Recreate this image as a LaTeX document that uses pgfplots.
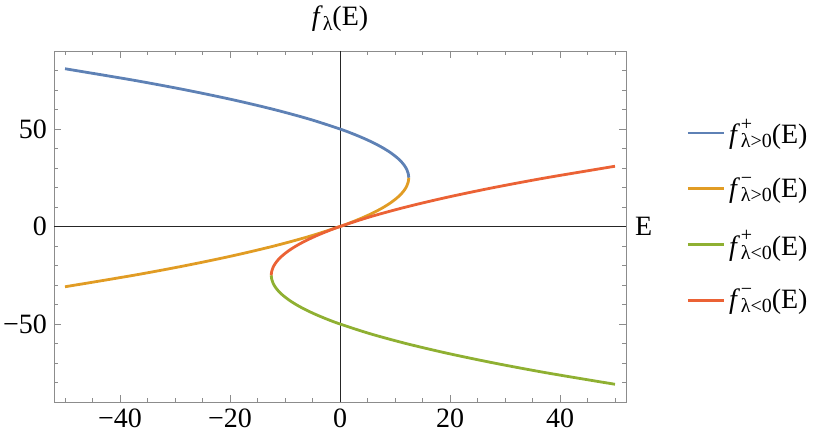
\documentclass[border=0pt]{standalone}
\usepackage{fontspec}
\setmainfont{Liberation Serif}
\usepackage{pgfplots}
\pgfplotsset{compat=1.18}

\definecolor{mblue}{RGB}{94,129,181}
\definecolor{morange}{RGB}{225,156,36}
\definecolor{mgreen}{RGB}{143,176,50}
\definecolor{mred}{RGB}{235,98,53}

% f^{sign}_{lambda cond}(E)
\newcommand{\sml}{\fontsize{10}{11}\selectfont}
\newcommand{\fl}[2]{\textit{f}\kern0.3pt\rlap{\raisebox{1.05ex}{\sml #1}}\raisebox{-0.3ex}{\sml λ#2}(E)}

\begin{document}
\begin{tikzpicture}
\begin{axis}[
    name=ax,
    scale only axis,
    width=286pt, height=175.5pt,
    xmin=-52, xmax=52,
    ymin=-90, ymax=90,
    xtick={-40,-20,0,20,40},
    xticklabels={−40,−20,0,20,40},
    ytick={-50,0,50},
    yticklabels={−50,0,50},
    minor xtick={-50,-45,...,50},
    minor ytick={-90,-80,...,90},
    tick align=inside,
    major tick length=3.5pt,
    minor tick length=2pt,
    axis line style={black!45},
    every tick/.style={black!45, line width=0.4pt},
    tick label style={font=\fontsize{14}{16}\selectfont},
    title={\textit{f}\raisebox{-0.35ex}{\sml λ}(E)},
    title style={font=\fontsize{14}{16}\selectfont, at={(0.5,1)}, anchor=south, yshift=0pt},
    xlabel={E},
    xlabel style={font=\fontsize{14}{16}\selectfont, at={(axis description cs:1,0.5)}, anchor=west, xshift=1pt},
    legend style={at={(1,0.5)}, anchor=west, xshift=27pt, yshift=5.5pt, draw=none, fill=none,
        font=\fontsize{14}{16}\selectfont, row sep=11pt},
    legend cell align=left,
    legend image code/.code={\draw[#1] (0pt,0pt) -- (18pt,0pt);},
    every axis plot/.append style={line width=1.4pt, smooth},
]

% axes through the origin
\draw[black!85, line width=0.5pt] (axis cs:0,-90) -- (axis cs:0,90);
\draw[black!85, line width=0.5pt] (axis cs:-52,0) -- (axis cs:52,0);

% f+ lambda>0
\addplot[mblue] coordinates {
    (12.5,25) (12.42,27) (12.18,29) (11.78,31) (11.22,33) (10.5,35)
    (9.375,37.5) (8,40) (6.375,42.5) (4.5,45) (2.375,47.5) (0,50)
    (-5.5,55) (-12,60) (-19.5,65) (-28,70) (-37.5,75) (-50,80.90)
};
\addlegendentry{\fl{+}{>0}}

% f- lambda>0
\addplot[morange] coordinates {
    (12.5,25) (12.42,23) (12.18,21) (11.78,19) (11.22,17) (10.5,15)
    (9.375,12.5) (8,10) (6.375,7.5) (4.5,5) (2.375,2.5) (0,0)
    (-5.5,-5) (-12,-10) (-19.5,-15) (-28,-20) (-37.5,-25) (-50,-30.90)
};
\addlegendentry{\fl{−}{>0}}

% f+ lambda<0
\addplot[mgreen] coordinates {
    (-12.5,-25) (-12.42,-27) (-12.18,-29) (-11.78,-31) (-11.22,-33) (-10.5,-35)
    (-9.375,-37.5) (-8,-40) (-6.375,-42.5) (-4.5,-45) (-2.375,-47.5) (0,-50)
    (5.5,-55) (12,-60) (19.5,-65) (28,-70) (37.5,-75) (50,-80.90)
};
\addlegendentry{\fl{+}{<0}}

% f- lambda<0
\addplot[mred] coordinates {
    (-12.5,-25) (-12.42,-23) (-12.18,-21) (-11.78,-19) (-11.22,-17) (-10.5,-15)
    (-9.375,-12.5) (-8,-10) (-6.375,-7.5) (-4.5,-5) (-2.375,-2.5) (0,0)
    (5.5,5) (12,10) (19.5,15) (28,20) (37.5,25) (50,30.90)
};
\addlegendentry{\fl{−}{<0}}

\end{axis}
% page size as in the reference
\pgfresetboundingbox
\path ([shift={(-27pt,-20.5pt)}]ax.south west) rectangle ([shift={(102pt,25.5pt)}]ax.north east);
\end{tikzpicture}
\end{document}
